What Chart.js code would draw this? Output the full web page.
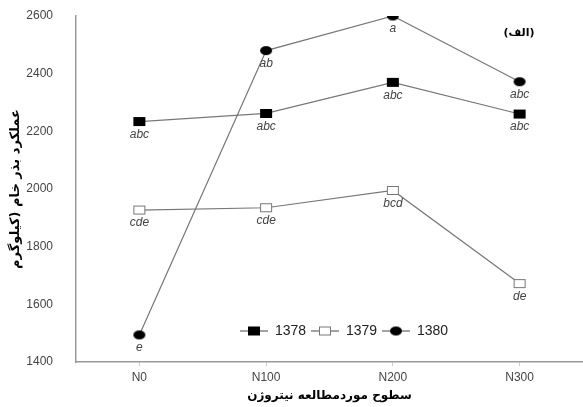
<!DOCTYPE html>
<html>
<head>
<meta charset="utf-8">
<script src="https://cdn.jsdelivr.net/npm/chart.js@4.4.0/dist/chart.umd.min.js"></script>
<style>
  html, body { margin: 0; padding: 0; background: #fff; overflow: hidden; }
  #c { display: block; }
</style>
</head>
<body>
<canvas id="c" width="583" height="407"></canvas>
<script>
// ---- data ----
const levels = ['N0', 'N100', 'N200', 'N300'];
const years = ['1378', '1379', '1380'];
const y1378 = [2234, 2262, 2370, 2260];
const y1379 = [1927, 1935, 1995, 1672];
const y1380 = [1494, 2480, 2600, 2372];
const let1378 = ['abc', 'abc', 'abc', 'abc'];
const let1379 = ['cde', 'cde', 'bcd', 'de'];
const let1380 = ['e', 'ab', 'a', 'abc'];
const yTicks = [1400, 1600, 1800, 2000, 2200, 2400, 2600];

// ---- marker images ----
function marker(kind) {
  const c = document.createElement('canvas');
  c.width = 14; c.height = 11;
  const g = c.getContext('2d');
  if (kind === 'filled') {
    g.fillStyle = '#000'; g.fillRect(1, 1, 12, 9);
  } else if (kind === 'hollow') {
    g.fillStyle = '#fff'; g.fillRect(1.5, 1.5, 11, 8);
    g.strokeStyle = '#777'; g.lineWidth = 1; g.strokeRect(1.5, 1.5, 11, 8);
  } else {
    g.fillStyle = '#000'; g.beginPath(); g.ellipse(7, 5.5, 6, 4.5, 0, 0, Math.PI * 2); g.fill();
  }
  return c;
}
const markers = [marker('filled'), marker('hollow'), marker('circle')];
const series = [y1378, y1379, y1380];
const letters = [let1378, let1379, let1380];

// letters under each point
const letterPlugin = {
  id: 'letters',
  afterDatasetsDraw(chart) {
    const ctx = chart.ctx;
    ctx.save();
    ctx.font = 'italic 12px "Liberation Sans", Arial, sans-serif';
    ctx.fillStyle = '#444';
    ctx.textAlign = 'center';
    ctx.textBaseline = 'middle';
    letters.forEach((arr, d) => {
      const meta = chart.getDatasetMeta(d);
      meta.data.forEach((pt, i) => ctx.fillText(arr[i], pt.x, pt.y + 13));
    });
    // panel tag
    ctx.font = 'bold 11px "DejaVu Sans", sans-serif';
    ctx.fillStyle = '#000';
    ctx.fillText('(الف)', chart.chartArea.right - 64, 33);
    ctx.restore();
  }
};

// legend drawn as line + marker + label, like the original
const legendPlugin = {
  id: 'lineLegend',
  afterDraw(chart) {
    const ctx = chart.ctx;
    const a = chart.chartArea;
    const y = a.bottom - 31;
    let x = a.left + 164;
    ctx.save();
    ctx.font = '14px "Liberation Sans", Arial, sans-serif';
    ctx.textBaseline = 'middle';
    ctx.fillStyle = '#222';
    years.forEach((yr, d) => {
      ctx.strokeStyle = '#666'; ctx.lineWidth = 1.2;
      ctx.beginPath(); ctx.moveTo(x, y); ctx.lineTo(x + 28, y); ctx.stroke();
      ctx.drawImage(markers[d], x + 14 - 7, y - 5.5);
      ctx.fillText(yr, x + 35, y);
      x += 71;
    });
    ctx.restore();
  }
};

new Chart(document.getElementById('c'), {
  type: 'line',
  data: {
    labels: levels,
    datasets: series.map((s, d) => ({
      label: years[d],
      data: s,
      borderColor: '#777',
      borderWidth: 1.2,
      tension: 0,
      pointStyle: markers[d],
      pointRadius: 6,
      pointHoverRadius: 6,
      clip: 0
    }))
  },
  options: {
    responsive: false,
    animation: false,
    events: [],
    layout: { autoPadding: false, padding: { top: 16, right: 0, left: 0, bottom: 0 } },
    plugins: { legend: { display: false }, tooltip: { enabled: false } },
    scales: {
      x: {
        offset: true,
        grid: { display: true, drawOnChartArea: false, tickLength: 4, color: '#ccc' },
        border: { color: '#999', width: 1.5 },
        ticks: { color: '#444', font: { family: '"Liberation Sans", Arial, sans-serif', size: 12 }, padding: 4 },
        title: { display: true, text: 'سطوح موردمطالعه نیتروژن', color: '#000',
                 font: { family: '"DejaVu Sans", sans-serif', size: 12, weight: 'bold' }, padding: { top: 2 } },
        afterFit(s) { s.height = 45; s.paddingLeft = 0; s.paddingRight = 0; }
      },
      y: {
        min: 1400, max: 2600,
        afterBuildTicks(s) { s.ticks = yTicks.map(v => ({ value: v })); },
        grid: { display: false },
        border: { color: '#999', width: 1.5 },
        ticks: { color: '#444', font: { family: '"Liberation Sans", Arial, sans-serif', size: 12 }, padding: 15,
                 callback: v => String(v) },
        title: { display: true, text: 'عملکرد بذر خام (کیلوگرم', color: '#000',
                 font: { family: '"DejaVu Sans", sans-serif', size: 13, weight: 'bold' }, padding: { top: 8, bottom: 0 } },
        afterFit(s) { s.width = 76; s.paddingTop = 0; s.paddingBottom = 0; }
      }
    }
  },
  plugins: [letterPlugin, legendPlugin]
});
</script>
</body>
</html>
